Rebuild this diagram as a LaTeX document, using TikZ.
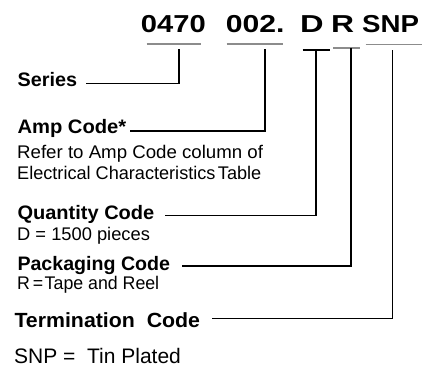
\documentclass[tikz,border=0pt]{standalone}
\usepackage{fontspec}
\setmainfont{Liberation Sans}
\begin{document}
\begin{tikzpicture}[x=1pt,y=-1pt,
  lbl/.style={anchor=base west, inner sep=0pt, font=\fontsize{19.5}{22}\selectfont\bfseries},
  lblbig/.style={anchor=base west, inner sep=0pt, font=\fontsize{20.5}{24}\selectfont\bfseries},
  txt/.style={anchor=base west, inner sep=0pt, font=\fontsize{18.3}{21}\selectfont},
  txtbig/.style={anchor=base west, inner sep=0pt, font=\fontsize{21}{24}\selectfont},
  hdr/.style={anchor=base west, inner sep=0pt, font=\fontsize{24.5}{28}\selectfont\bfseries},
  uline/.style={draw=black!45, line width=1.6pt},
  ulineD/.style={draw=black, line width=2pt},
  conn/.style={draw=black, line width=1.3pt}]
\useasboundingbox (0,0) rectangle (426,366);
% header
\node[hdr] (h1) at (140.7,32.3) {\scalebox{1.19}[1]{0470}};
\node[hdr] (h2) at (225.7,32.3) {\scalebox{1.23}[1]{002.}};
\node[hdr] (h3) at (299.8,32.3) {\scalebox{1.33}[1]{D}};
\node[hdr] (h4) at (331,32.3) {\scalebox{1.3}[1]{R}};
\node[hdr] (h5) at (362,32.3) {\scalebox{1.13}[1]{SNP}};
% underlines
\coordinate (u1a) at (146.7,44.3); \coordinate (u1b) at (201,44.3);
\coordinate (u2a) at (226.7,44.3); \coordinate (u2b) at (283,44.3);
\coordinate (u3a) at (302.5,49.7); \coordinate (u3b) at (330,49.7);
\coordinate (u4a) at (333.3,48); \coordinate (u4b) at (360,48);
\coordinate (u5a) at (365.5,44.5); \coordinate (u5b) at (421.5,44.5);
\draw[uline] (u1a) -- (u1b);
\draw[uline] (u2a) -- (u2b);
\draw[ulineD] (u3a) -- (u3b);
\draw[uline] (u4a) -- (u4b);
\draw[uline] (u5a) -- (u5b);
% labels
\node[lbl] (ser) at (17.5,86.7) {\scalebox{1.015}[1]{Series}};
\node[lbl] (amp) at (17.3,134) {\scalebox{1.035}[1]{Amp Code*}};
\node[txt] (amp1) at (17,158.5) {\scalebox{1.02}[1]{Refer to Amp Code column of}};
\node[txt] (amp2) at (17,180) {\scalebox{0.99}[1]{Electrical Characteristics\hspace{2.5pt}Table}};
\node[lbl] (qty) at (17.3,220) {\scalebox{1.027}[1]{Quantity Code}};
\node[txt] (qty1) at (17,241) {D = 1500 pieces};
\node[lbl] (pkg) at (17.3,271) {\scalebox{1.006}[1]{Packaging Code}};
\node[txt] (pkg1) at (17,290) {\scalebox{0.97}[1]{R\hspace{3pt}=\hspace{1.5pt}Tape and Reel}};
\node[lblbig] (ter) at (14.3,327.3) {\scalebox{1.04}[1]{Termination\ \ Code}};
\node[txtbig] (ter1) at (14,363) {SNP =\ \ Tin Plated};
% connectors
\coordinate (c1t) at (179,49.3); \coordinate (c1e) at (86,83.5);
\coordinate (c2t) at (265,49.3); \coordinate (c2e) at (130,131);
\coordinate (c3t) at (316,49.7); \coordinate (c3e) at (165,215.7);
\coordinate (c4t) at (351,48); \coordinate (c4e) at (181.7,266);
\coordinate (c5t) at (392.5,50.5); \coordinate (c5e) at (211.7,318.3);
\draw[conn] (c1t) |- (c1e);
\draw[conn] (c2t) |- (c2e);
\draw[conn] (c3t) |- (c3e);
\draw[conn] (c4t) |- (c4e);
\draw[conn] (c5t) |- (c5e);
\end{tikzpicture}
\end{document}
